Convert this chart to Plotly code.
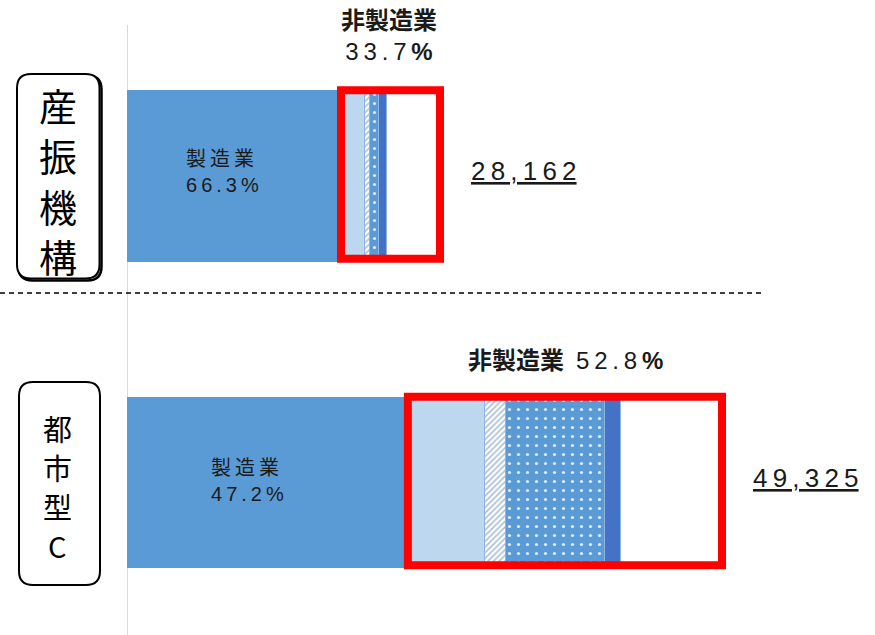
import plotly.graph_objects as go

# ---------------- data ----------------
groups = ["都市型C", "産振機構"]          # y = 0 (bottom), 1 (top)
group_chars = [["都", "市", "型", "C"], ["産", "振", "機", "構"]]
totals_text = ["49,325", "28,162"]
mfg_label = "製造業"
mfg_pct = ["47.2%", "66.3%"]
nonmfg_label = "非製造業"
nonmfg_pct = ["52.8", "33.7"]

# segment widths (same scale for both bars)
manufacturing = [23281, 17740]
nm_light = [6400, 1990]
nm_hatch = [1740, 415]
nm_dotted = [8210, 746]
nm_dark = [1320, 663]
nm_white = [8374, 4394]

# ---------------- geometry helpers ----------------
W, H = 875, 635
L = 127
PW = W - L
K = 595 / 49325            # px per unit
XMAX = PW / K
UNIT = 306.5               # px per y unit
YMAX = 1 + 176 / UNIT
YMIN = -(H - 482.5) / UNIT


def px(x):
    return (x - L) / PW


def py(y):
    return 1 - y / H


def rrect(x0, y0, x1, y1, r):
    pts = [
        ("M", [(x0 + r, y0)]), ("L", [(x1 - r, y0)]), ("Q", [(x1, y0), (x1, y0 + r)]),
        ("L", [(x1, y1 - r)]), ("Q", [(x1, y1), (x1 - r, y1)]), ("L", [(x0 + r, y1)]),
        ("Q", [(x0, y1), (x0, y1 - r)]), ("L", [(x0, y0 + r)]), ("Q", [(x0, y0), (x0 + r, y0)]),
    ]
    s = ""
    for cmd, ps in pts:
        s += cmd + " " + " ".join(f"{px(a):.5f},{py(b):.5f}" for a, b in ps) + " "
    return s + "Z"


yv = [0, 1]
BW = 0.561
edge = dict(color="#8FB4E3", width=1)

fig = go.Figure()
fig.add_trace(go.Bar(y=yv, x=manufacturing, orientation="h", width=BW,
                     marker=dict(color="#5B9BD5", line=dict(color="#5B9BD5", width=0))))
fig.add_trace(go.Bar(y=yv, x=nm_light, orientation="h", width=BW,
                     marker=dict(color="#BDD7EE", line=edge)))
fig.add_trace(go.Bar(y=yv, x=nm_hatch, orientation="h", width=BW,
                     marker=dict(color="white", line=edge,
                                 pattern=dict(shape="/", fgcolor="#A9BFD6", bgcolor="white",
                                              size=4, solidity=0.4, fillmode="replace"))))
fig.add_trace(go.Bar(y=yv, x=nm_dotted, orientation="h", width=BW,
                     marker=dict(color="#5B9BD5", line=edge,
                                 pattern=dict(shape=".", fgcolor="#DEEBF7", bgcolor="#5B9BD5",
                                              size=9, solidity=0.1, fillmode="replace"))))
fig.add_trace(go.Bar(y=yv, x=nm_dark, orientation="h", width=BW,
                     marker=dict(color="#4472C4", line=edge)))
fig.add_trace(go.Bar(y=yv, x=nm_white, orientation="h", width=BW,
                     marker=dict(color="white", line=edge)))

totals = [m + a + b + c + d + e for m, a, b, c, d, e in
          zip(manufacturing, nm_light, nm_hatch, nm_dotted, nm_dark, nm_white)]

shapes = []
# vertical axis line
shapes.append(dict(type="line", xref="x", yref="paper", x0=0, x1=0, y0=0, y1=py(25),
                   line=dict(color="#D9D9D9", width=2), layer="below"))
# dashed separator
shapes.append(dict(type="line", xref="paper", yref="paper", x0=px(0), x1=px(765),
                   y0=py(293), y1=py(293), line=dict(color="black", width=1.5, dash="5px,4px")))
# red highlight boxes
for i, y in enumerate(yv):
    shapes.append(dict(type="rect", xref="x", yref="y", x0=manufacturing[i], x1=totals[i],
                       y0=y - 0.27, y1=y + 0.28, line=dict(color="#FF0000", width=8),
                       fillcolor="rgba(0,0,0,0)"))
# group label boxes
shapes.append(dict(type="path", xref="paper", yref="paper", path=rrect(18.5, 75.5, 101.5, 280.5, 14),
                   line=dict(color="black", width=2.5)))
shapes.append(dict(type="path", xref="paper", yref="paper", path=rrect(17, 74, 99.5, 278.5, 14),
                   line=dict(color="black", width=2), fillcolor="white"))
shapes.append(dict(type="path", xref="paper", yref="paper", path=rrect(19, 382, 100, 585, 14),
                   line=dict(color="black", width=2), fillcolor="white"))

SANS = "Liberation Sans, Arial, Noto Sans CJK JP, sans-serif"
CJK = "Noto Sans CJK JP, sans-serif"
TS = "\u2009"

ann = []
# group labels, one character per line
label_layout = [  # (center x, first char center y, spacing, font size)
    (57, 428, 39, 29),
    (57.5, 104, 50.5, 38),
]
for g, chars in enumerate(group_chars):
    cx, y0, dy, fs = label_layout[g]
    for j, ch in enumerate(chars):
        ann.append(dict(xref="paper", yref="paper", x=px(cx), y=py(y0 + j * dy),
                        xanchor="center", yanchor="middle", text=ch, showarrow=False,
                        borderpad=0, font=dict(family=CJK, size=fs, color="black")))
# manufacturing labels
ann.append(dict(xref="paper", yref="paper", x=px(184), y=py(172), xanchor="left", yanchor="middle",
                text=TS.join(mfg_label) + "<br>" + TS.join(mfg_pct[1]), align="left", showarrow=False,
                font=dict(family=SANS, size=20, color="#1a1a1a")))
ann.append(dict(xref="paper", yref="paper", x=px(209), y=py(481), xanchor="left", yanchor="middle",
                text=TS.join(mfg_label) + "<br>" + TS.join(mfg_pct[0]), align="left", showarrow=False,
                font=dict(family=SANS, size=20, color="#1a1a1a")))
# totals
for i, y in enumerate(yv):
    ann.append(dict(xref="x", yref="y", x=totals[i], y=y, xanchor="left", yanchor="middle",
                    xshift=29, yshift=5,
                    text="<u>" + TS.join(totals_text[i]) + "</u>", showarrow=False,
                    font=dict(family=SANS, size=26, color="#1a1a1a")))
# non-manufacturing headings
ann.append(dict(xref="paper", yref="paper", x=px(389), y=py(36), xanchor="center", yanchor="middle",
                text="<b>" + nonmfg_label + "</b><br>" + TS.join(nonmfg_pct[1]) + TS + "<b>%</b>",
                showarrow=False, font=dict(family=SANS, size=24, color="#1a1a1a")))
ann.append(dict(xref="paper", yref="paper", x=px(565), y=py(360), xanchor="center", yanchor="middle",
                text="<b>" + nonmfg_label + "</b>" + "\u2002" + TS.join(nonmfg_pct[0]) + TS + "<b>%</b>",
                showarrow=False, font=dict(family=SANS, size=24, color="#1a1a1a")))

fig.update_layout(
    width=W, height=H, barmode="stack", showlegend=False,
    margin=dict(l=L, r=0, t=0, b=0),
    paper_bgcolor="white", plot_bgcolor="white",
    xaxis=dict(range=[0, XMAX], visible=False, fixedrange=True),
    yaxis=dict(range=[YMIN, YMAX], visible=False, fixedrange=True),
    shapes=shapes, annotations=ann, bargap=0,
)

fig.write_html("out.html", config={"displayModeBar": False},
               post_script="document.body.style.margin='0';document.body.style.padding='0';")
